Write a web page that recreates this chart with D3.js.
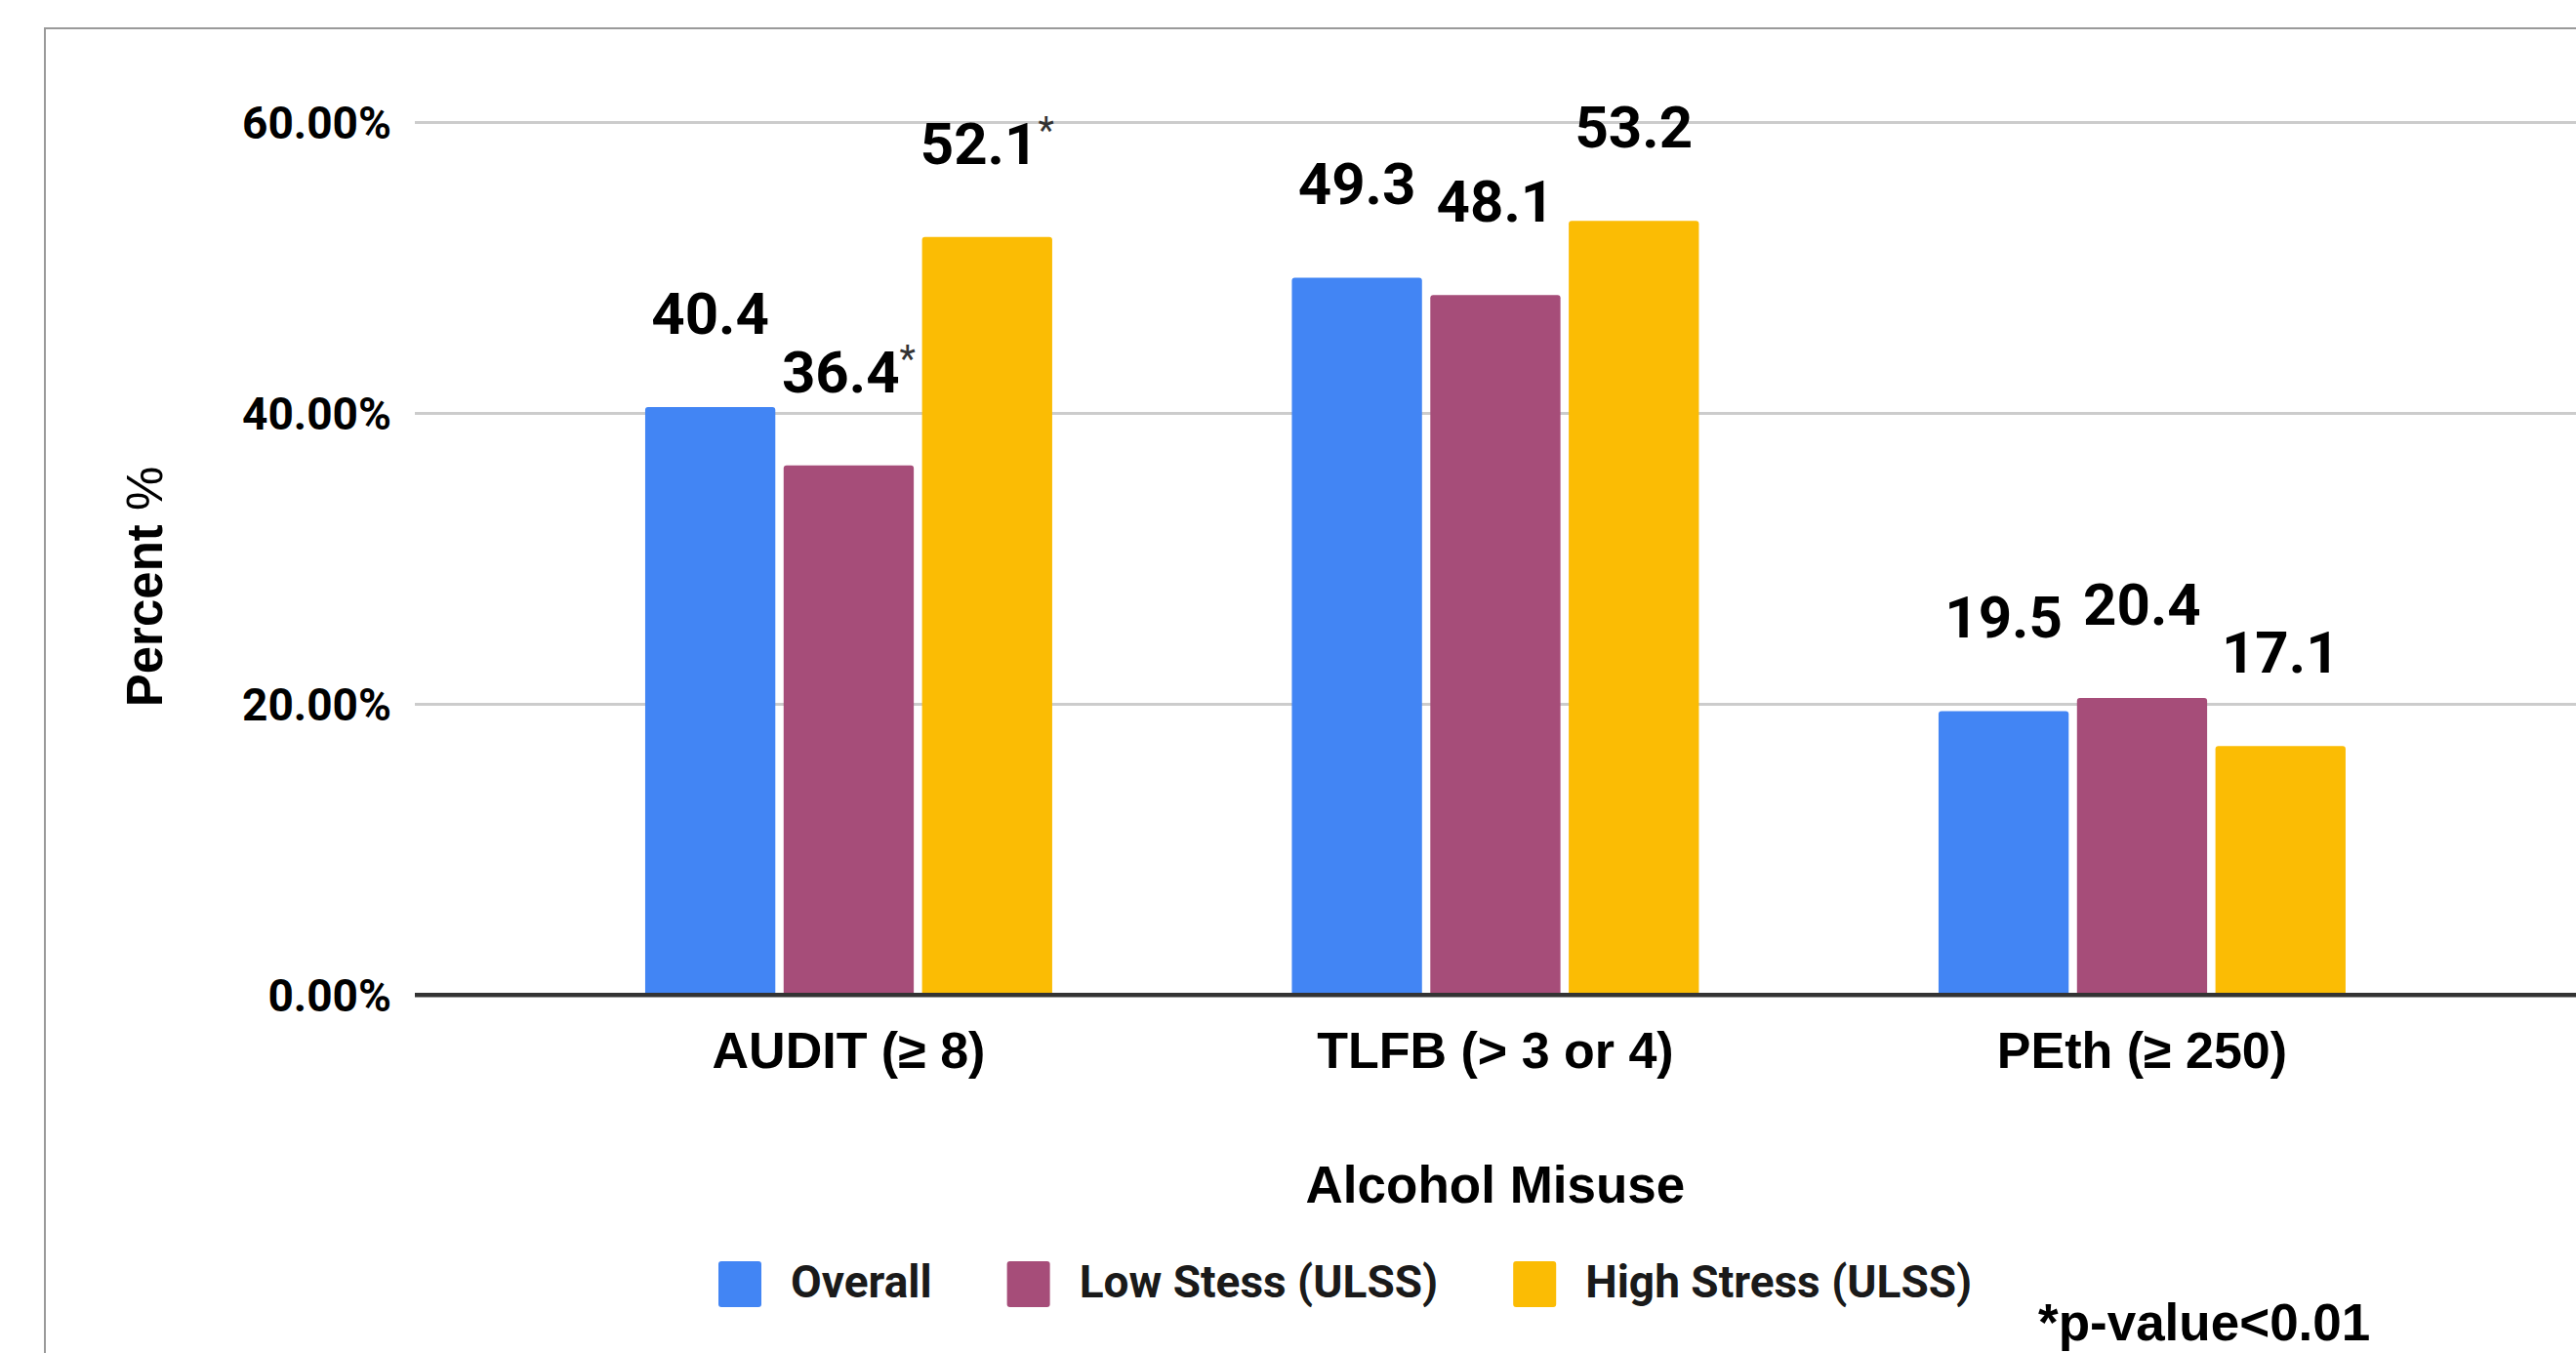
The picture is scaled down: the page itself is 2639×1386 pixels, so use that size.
<!DOCTYPE html>
<html>
<head>
<meta charset="utf-8">
<script src="https://cdn.jsdelivr.net/npm/d3@7"></script>
<style>
  html, body { margin: 0; padding: 0; background: #ffffff; }
  svg { display: block; }
</style>
</head>
<body>
<svg id="chart" width="2639" height="1386"></svg>
<script>
// ---- data ----
const categories = ["AUDIT (\u2265 8)", "TLFB (> 3 or 4)", "PEth (\u2265 250)"];
const seriesNames = ["Overall", "Low Stess (ULSS)", "High Stress (ULSS)"];
const overallValues = [40.4, 49.3, 19.5];
const lowStressValues = [36.4, 48.1, 20.4];
const highStressValues = [52.1, 53.2, 17.1];
const significant = [[false, true, true], [false, false, false], [false, false, false]]; // [category][series]
const yTicks = [0, 20, 40, 60];
const seriesColors = ["#4285f4", "#a64d79", "#fbbc04"];
const xAxisTitle = "Alcohol Misuse";
const yAxisTitle = "Percent";
const footnote = "*p-value<0.01";

const seriesValues = [overallValues, lowStressValues, highStressValues];

// ---- layout ----
const W = 2639, H = 1386;
const svg = d3.select("#chart");
svg.append("rect").attr("width", W).attr("height", H).attr("fill", "#fff");

// outer frame (extends past right/bottom edges)
svg.append("rect")
  .attr("x", 46).attr("y", 29).attr("width", W + 100).attr("height", H + 100)
  .attr("fill", "none").attr("stroke", "#9a9a9a").attr("stroke-width", 2);

const gridLayer = svg.append("g");
const barLayer = svg.append("g");
const topLayer = svg.append("g");

const plotLeft = 425, plotRight = W, y0px = 1019, y60px = 125;

const y = d3.scaleLinear().domain([0, 60]).range([y0px, y60px]);
const x0 = d3.scaleBand().domain(categories).range([538.2, 2525.7])
  .paddingInner(0.3706).paddingOuter(0.1853);
const x1 = d3.scaleBand().domain(seriesNames).range([0, x0.bandwidth()])
  .paddingInner(0.06).paddingOuter(0);

// y axis with gridlines
const yAxis = d3.axisLeft(y).tickValues(yTicks)
  .tickSize(-(plotRight - plotLeft)).tickPadding(24)
  .tickFormat(d => d.toFixed(2) + "%");
const gy = gridLayer.append("g").attr("transform", `translate(${plotLeft},0)`).call(yAxis);
gy.select(".domain").remove();
gy.selectAll(".tick line")
  .attr("stroke", d => d === 0 ? "#333333" : "#cccccc")
  .attr("stroke-width", d => d === 0 ? 4 : 3);
gy.selectAll(".tick text")
  .attr("font-family", "Roboto, 'Liberation Sans', Arial, sans-serif")
  .attr("font-weight", "bold").attr("font-size", 46).attr("fill", "#000")
  .attr("dy", "0.36em");

// bars
const groups = barLayer.selectAll("g").data(categories).join("g")
  .attr("transform", d => `translate(${x0(d)},0)`);

const barData = (c, ci) => seriesNames.map((s, si) => ({
  cat: c, ci, series: s, si, value: seriesValues[si][ci], sig: significant[ci][si]
}));

function topRoundedRect(x, yT, w, h, r) {
  return `M${x},${yT + h} V${yT + r} Q${x},${yT} ${x + r},${yT} H${x + w - r} Q${x + w},${yT} ${x + w},${yT + r} V${yT + h} Z`;
}

groups.selectAll("path.bar").data((c, ci) => barData(c, ci)).join("path")
  .attr("class", "bar")
  .attr("d", d => topRoundedRect(x1(d.series), y(d.value), x1.bandwidth(), y(0) - y(d.value), 3))
  .attr("fill", d => seriesColors[d.si]);

// zero axis line on top
topLayer.append("line").attr("x1", plotLeft).attr("x2", plotRight)
  .attr("y1", y(0)).attr("y2", y(0))
  .attr("stroke", "#333333").attr("stroke-width", 4);

// value labels
const lbl = groups.selectAll("text.val").data((c, ci) => barData(c, ci)).join("text")
  .attr("class", "val")
  .attr("x", d => x1(d.series) + x1.bandwidth() / 2)
  .attr("y", d => y(d.value) - 75)
  .attr("text-anchor", "middle")
  .attr("font-family", "Roboto, 'Liberation Sans', Arial, sans-serif")
  .attr("font-weight", "bold").attr("font-size", 60).attr("fill", "#000");
lbl.append("tspan").text(d => d.value.toFixed(1));
lbl.filter(d => d.sig).append("tspan")
  .attr("font-size", 38).attr("font-weight", "normal").attr("fill", "#333")
  .attr("dy", "-0.55em").text("*");

// x axis category labels
const xAxis = d3.axisBottom(x0).tickSize(0).tickPadding(0);
const gx = topLayer.append("g").attr("transform", `translate(0,${y0px})`).call(xAxis);
gx.select(".domain").remove();
gx.selectAll(".tick text")
  .attr("y", 75).attr("dy", 0)
  .attr("font-family", "'Liberation Sans', Arial, sans-serif")
  .attr("font-weight", "bold").attr("font-size", 52).attr("fill", "#000");

// x axis title
topLayer.append("text")
  .attr("x", (x0.range()[0] + x0.range()[1]) / 2).attr("y", 1232)
  .attr("text-anchor", "middle")
  .attr("font-family", "'Liberation Sans', Arial, sans-serif")
  .attr("font-weight", "bold").attr("font-size", 53).attr("fill", "#000")
  .text(xAxisTitle);

// y axis title
const yt = topLayer.append("text")
  .attr("transform", "translate(166,601) rotate(-90)")
  .attr("text-anchor", "middle")
  .attr("font-family", "'Liberation Sans', Arial, sans-serif")
  .attr("font-size", 51).attr("fill", "#000");
yt.append("tspan").attr("font-weight", "bold").text(yAxisTitle + " ");
yt.append("tspan").attr("font-weight", "normal").text("%");

// legend
const legend = topLayer.append("g").attr("transform", "translate(736,0)");
let lx = 0;
seriesNames.forEach((s, i) => {
  const g = legend.append("g").attr("transform", `translate(${lx},0)`);
  g.append("rect").attr("x", 0).attr("y", 1292).attr("width", 44).attr("height", 47)
    .attr("rx", 3).attr("fill", seriesColors[i]);
  const t = g.append("text").attr("x", 74).attr("y", 1329)
    .attr("font-family", "Roboto, 'Liberation Sans', Arial, sans-serif")
    .attr("font-weight", "bold").attr("font-size", 46).attr("fill", "#1a1a1a")
    .text(s);
  lx += 74 + t.node().getComputedTextLength() + 77;
});

// footnote
topLayer.append("text")
  .attr("x", 2088).attr("y", 1373)
  .attr("font-family", "'Liberation Sans', Arial, sans-serif")
  .attr("font-weight", "bold").attr("font-size", 53).attr("fill", "#000")
  .text(footnote);
</script>
</body>
</html>
